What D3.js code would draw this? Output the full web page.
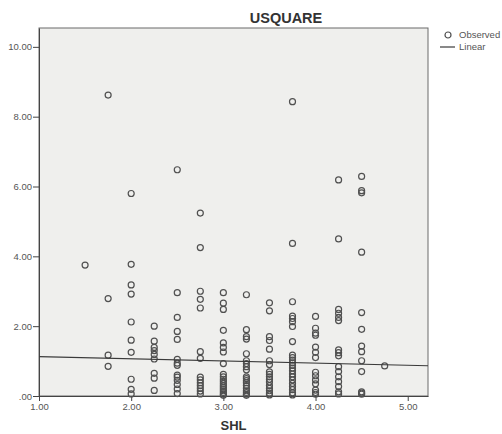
<!DOCTYPE html>
<html>
<head>
<meta charset="utf-8">
<script src="https://cdn.jsdelivr.net/npm/d3@7"></script>
<style>
  body { margin: 0; background: #fff; }
  svg text { font-family: "Liberation Sans", Arial, sans-serif; }
</style>
</head>
<body>
<div id="chart"></div>
<script>
// SHL levels (x) and the USQUARE values observed at each level
var shlLevels = [1.5, 1.75, 2.0, 2.25, 2.5, 2.75, 3.0, 3.25, 3.5, 3.75, 4.0, 4.25, 4.5, 4.75];
var usquareAtLevel = [
  [3.75],
  [8.62, 2.79, 1.17, 0.85],
  [5.8, 3.77, 3.18, 2.92, 2.12, 1.6, 1.25, 0.48, 0.19, 0.06],
  [2.0, 1.57, 1.39, 1.3, 1.19, 1.06, 0.65, 0.51, 0.16],
  [6.48, 2.96, 2.25, 1.85, 1.62, 1.05, 0.94, 0.88, 0.6, 0.54, 0.45, 0.33, 0.2, 0.07],
  [5.24, 4.25, 3.0, 2.77, 2.52, 1.27, 1.08, 0.54, 0.46, 0.38, 0.3, 0.22, 0.14, 0.06],
  [2.96, 2.66, 2.48, 1.88, 1.52, 1.39, 1.26, 0.93, 0.62, 0.55, 0.48, 0.42, 0.36, 0.3, 0.25, 0.2, 0.15, 0.1, 0.05, 0.02],
  [2.9, 1.9, 1.7, 1.63, 1.21, 1.01, 0.93, 0.84, 0.75, 0.55, 0.5, 0.44, 0.38, 0.3, 0.22, 0.15, 0.1, 0.05, 0.02],
  [2.67, 2.44, 1.7, 1.59, 1.34, 1.01, 0.9, 0.69, 0.62, 0.55, 0.48, 0.4, 0.3, 0.22, 0.15, 0.08, 0.03],
  [8.43, 4.37, 2.7, 2.29, 2.22, 2.13, 1.99, 1.56, 1.17, 1.1, 1.03, 0.95, 0.88, 0.8, 0.72, 0.63, 0.55, 0.46, 0.36, 0.27, 0.18, 0.09, 0.03],
  [2.28, 1.94, 1.8, 1.74, 1.4, 1.25, 1.1, 0.68, 0.58, 0.46, 0.35, 0.17, 0.1, 0.05],
  [6.19, 4.5, 2.48, 2.37, 2.25, 2.16, 1.32, 1.24, 1.15, 0.84, 0.7, 0.55, 0.41, 0.27, 0.12, 0.06],
  [6.29, 5.88, 5.82, 4.12, 2.39, 1.91, 1.43, 1.27, 1.01, 0.7, 0.12, 0.08, 0.05],
  [0.86]
];
var xTicks = [1, 2, 3, 4, 5];
var yTicks = [0, 2, 4, 6, 8, 10];
// fitted linear model: USQUARE = b0 + b1 * SHL
var linearFit = [1.19, -0.062];
var legendItems = ["Observed", "Linear"];

var svgWidth = 502;
var svgHeight = 434;
var margin = { top: 28, right: 74, bottom: 38, left: 39 };
var width = svgWidth - margin.left - margin.right;
var height = svgHeight - margin.top - margin.bottom;

var data = [];
shlLevels.forEach(function(s, i) {
  usquareAtLevel[i].forEach(function(u) { data.push({ shl: s, usquare: u }); });
});

var svg = d3.select("#chart").append("svg")
  .attr("width", svgWidth)
  .attr("height", svgHeight);

var chartGroup = svg.append("g")
  .attr("transform", `translate(${margin.left}, ${margin.top})`);

var xScale = d3.scaleLinear().domain([1, 5.22]).range([0, width]);
var yScale = d3.scaleLinear().domain([0, 10.54]).range([height, 0]);

// SPSS style labels: ".00", "2.00"
var fmt = function(d) { return d3.format(".2f")(d).replace(/^0\./, "."); };

chartGroup.append("rect")
  .attr("width", width)
  .attr("height", height)
  .attr("fill", "#efefed")
  .attr("stroke", "#6a6a6a")
  .attr("stroke-width", 1);

var bottomAxis = d3.axisBottom(xScale).tickValues(xTicks).tickFormat(fmt).tickSize(5).tickSizeOuter(0);
var leftAxis = d3.axisLeft(yScale).tickValues(yTicks).tickFormat(fmt).tickSize(6).tickSizeOuter(0);

var xAxisGroup = chartGroup.append("g")
  .attr("transform", `translate(0, ${height})`)
  .call(bottomAxis);
var yAxisGroup = chartGroup.append("g").call(leftAxis);

[xAxisGroup, yAxisGroup].forEach(function(g) {
  g.select(".domain").attr("stroke", "#444");
  g.selectAll(".tick line").attr("stroke", "#444");
  g.selectAll(".tick text")
    .attr("fill", "#555")
    .attr("font-size", "9.5px")
    .style("font-family", "'Liberation Sans', Arial, sans-serif");
});
xAxisGroup.selectAll(".tick text").attr("dy", "0.6em");
yAxisGroup.selectAll(".tick text").attr("x", -7);

// observed points
chartGroup.append("g")
  .selectAll("circle")
  .data(data)
  .enter()
  .append("circle")
  .attr("cx", function(d) { return xScale(d.shl); })
  .attr("cy", function(d) { return yScale(d.usquare); })
  .attr("r", 3)
  .attr("fill", "none")
  .attr("stroke", "#505050")
  .attr("stroke-width", 1.2);

// linear fit across the whole x range
var xExtent = xScale.domain();
chartGroup.append("line")
  .attr("x1", xScale(xExtent[0]))
  .attr("y1", yScale(linearFit[0] + linearFit[1] * xExtent[0]))
  .attr("x2", xScale(xExtent[1]))
  .attr("y2", yScale(linearFit[0] + linearFit[1] * xExtent[1]))
  .attr("stroke", "#3a3a3a")
  .attr("stroke-width", 1.2);

// titles
svg.append("text")
  .attr("x", 286)
  .attr("y", 23)
  .attr("text-anchor", "middle")
  .attr("font-size", "14.5px")
  .attr("font-weight", "bold")
  .attr("fill", "#333")
  .text("USQUARE");

svg.append("text")
  .attr("x", margin.left + width / 2)
  .attr("y", 430)
  .attr("text-anchor", "middle")
  .attr("font-size", "13px")
  .attr("font-weight", "bold")
  .attr("fill", "#333")
  .text("SHL");

// legend
var legend = svg.append("g").attr("transform", "translate(440, 35)");
legend.append("circle")
  .attr("cx", 8).attr("cy", 0).attr("r", 3)
  .attr("fill", "none").attr("stroke", "#505050").attr("stroke-width", 1.2);
legend.append("line")
  .attr("x1", 0).attr("x2", 15).attr("y1", 12).attr("y2", 12)
  .attr("stroke", "#3a3a3a").attr("stroke-width", 1.2);
legend.selectAll("text.lab")
  .data(legendItems)
  .enter()
  .append("text")
  .attr("class", "lab")
  .attr("x", 19)
  .attr("y", function(d, i) { return i * 12; })
  .attr("dy", "0.35em")
  .attr("font-size", "9.5px")
  .attr("fill", "#555")
  .text(function(d) { return d; });
</script>
</body>
</html>
